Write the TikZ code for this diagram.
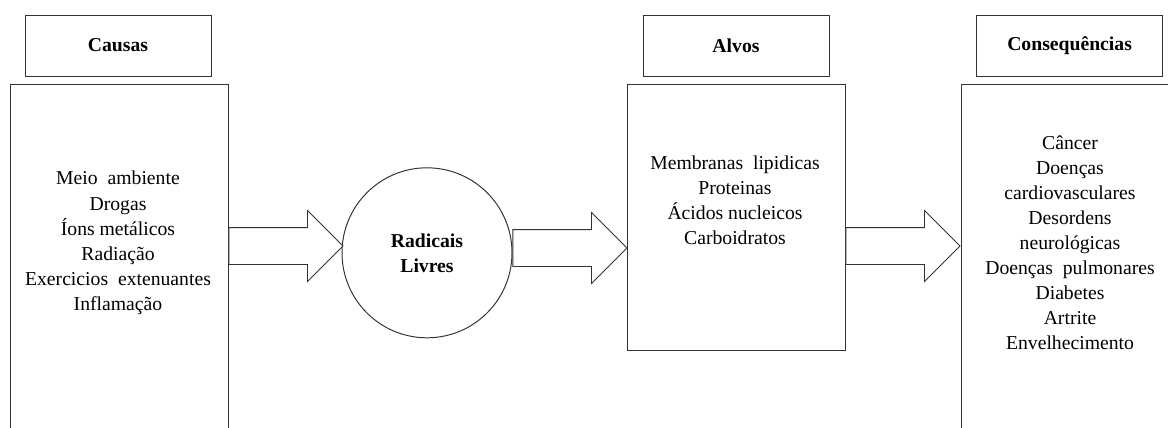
\documentclass[tikz,border=0pt]{standalone}
\usepackage{fontspec}
\setmainfont{Liberation Serif}
\usepackage{tikz}
\usetikzlibrary{
    shapes.geometric,
    shapes.arrows,
    positioning,
    calc
}

\begin{document}
\begin{tikzpicture}[
            font=\fontsize{14}{17.8}\selectfont,
            line width=0.7pt,
            header/.style={draw=black!80, align=center, font=\fontsize{14}{17.8}\selectfont\bfseries,
                           minimum width=4.65cm, minimum height=1.525cm},
            listbox/.style={draw=black!80, minimum width=5.45cm},
            listtext/.style={align=center, inner sep=0pt},
            radical/.style={draw=black!80, circle, minimum size=4.25cm, align=center,
                            font=\fontsize{14}{17.8}\selectfont\bfseries},
            bigarr/.style={draw=black!80, fill=white, single arrow, inner xsep=0pt, inner ysep=0.45cm,
                           minimum height=2.85cm, single arrow head extend=0.425cm}
        ]
            \useasboundingbox (0, 0) rectangle (29.2, -10.675);

            \node[header] (causashead) at (2.95, -1.14) {Causas};
            \node[header] (alvoshead) at (18.4, -1.14) {Alvos};
            \node[header] (conseqhead) at (26.74, -1.14) {Consequências};

            \node[listbox, minimum height=8.8cm, anchor=north] (causas) at (2.975, -2.1) {};
            \node[listbox, minimum height=6.65cm, anchor=north] (alvos) at (18.4, -2.1) {};
            \node[listbox, minimum height=8.8cm, anchor=north] (conseq) at (26.75, -2.1) {};

            \node[radical] (radicais) at (10.675, -6.32) {Radicais\\Livres};

            \node[listtext] (causaslist) at (2.95, -6.07)
                {Meio \ ambiente\\
                 Drogas\\
                 Íons metálicos\\
                 Radiação\\
                 Exercicios \ extenuantes\\
                 Inflamação};

            \node[listtext] (alvoslist) at (18.375, -5.0)
                {Membranas \ lipidicas\\
                 Proteinas\\
                 Ácidos nucleicos\\
                 Carboidratos};

            \node[listtext] (conseqlist) at (26.75, -6.06)
                {Câncer\\
                 Doenças\\
                 cardiovasculares\\
                 Desordens\\
                 neurológicas\\
                 Doenças \ pulmonares\\
                 Diabetes\\
                 Artrite\\
                 Envelhecimento};

            \node[bigarr, anchor=tail] (arrA) at (causas.east |- 0, -6.15) {};
            \node[bigarr, anchor=tail] (arrB) at (radicais.east |- 0, -6.2) {};
            \node[bigarr, anchor=tail] (arrC) at (alvos.east |- 0, -6.15) {};
        \end{tikzpicture}
\end{document}
